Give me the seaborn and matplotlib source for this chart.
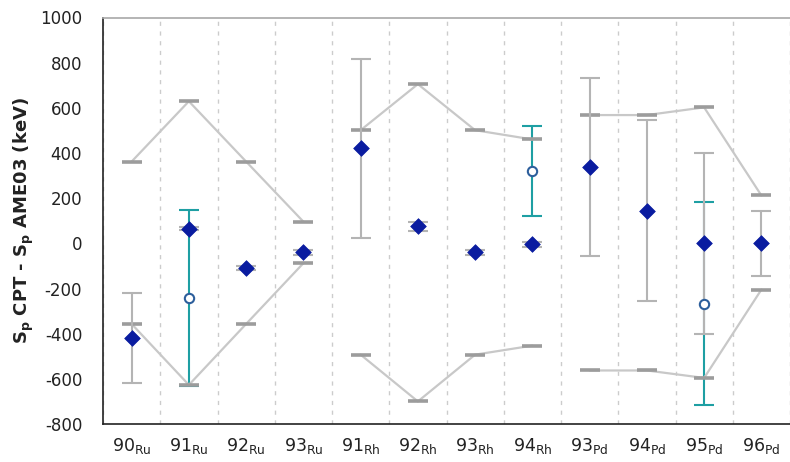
import numpy as np
import pandas as pd
import matplotlib
matplotlib.use("Agg")
import matplotlib.pyplot as plt
import seaborn as sns

# ---- data ----
masses = ['90', '91', '92', '93', '91', '92', '93', '94', '93', '94', '95', '96']
elements = ['Ru', 'Ru', 'Ru', 'Ru', 'Rh', 'Rh', 'Rh', 'Rh', 'Pd', 'Pd', 'Pd', 'Pd']
cpt_val = [-420, 65, -110, -40, 420, 75, -40, -5, 340, 145, 0, 0]
cpt_err = [198, 8, 10, 10, 397, 20, 10, 10, 394, 400, 400, 145]
alt_pos = [1, 7, 10]
alt_val = [-242, 320, -267]
alt_err = [388, 198, 448]
ame_upper = [362, 629, 362, 96, 501, 705, 501, 460, 568, 568, 602, 212]
ame_lower = [-357, -627, -357, -88, -493, -700, -493, -453, -563, -563, -596, -205]
yticks = list(range(-800, 1001, 200))

sns.set_style("white")
plt.rcParams['font.family'] = ['DejaVu Sans']

x = np.arange(len(masses))
df = pd.DataFrame({'x': x, 'cpt': cpt_val, 'upper': ame_upper,
                   'lower': ame_lower, 'group': elements})

fig = plt.figure(figsize=(7.9, 4.62), dpi=100)
ax = fig.add_axes([103 / 790, 1 - 424 / 462, 1 - 103 / 790, (424 - 17.5) / 462])

grey_bar = '#B4B4B4'
cyan = '#1E9FA3'

# cyan error bars (alternative values)
ax.errorbar(alt_pos, alt_val, yerr=alt_err, fmt='none', ecolor=cyan,
            elinewidth=1.5, capsize=7, capthick=1.5, zorder=2)

# AME uncertainty envelope lines
for col in ['upper', 'lower']:
    sns.lineplot(data=df, x='x', y=col, units='group', estimator=None,
                 color='#C8C8C8', lw=1.6, marker='_', markersize=14,
                 markeredgewidth=2.6, markeredgecolor='#9C9C9C',
                 legend=False, ax=ax, zorder=3)

# grey error bars on CPT values
ax.errorbar(x, cpt_val, yerr=cpt_err, fmt='none', ecolor=grey_bar,
            elinewidth=1.5, capsize=7, capthick=1.5, zorder=4)

sns.scatterplot(x=x, y=cpt_val, marker='D', s=64, color='#0A1CA0',
                edgecolor='#0A1CA0', linewidth=0.5, ax=ax, zorder=5, legend=False)
sns.scatterplot(x=alt_pos, y=alt_val, marker='o', s=45, color='white',
                edgecolor='#2D5F9C', linewidth=1.5, ax=ax, zorder=6, legend=False)

# axes
ax.set_xlim(-0.5, -0.5 + 687 / 57.6)
ax.set_ylim(-800, 1000)
ax.set_yticks(yticks)
ax.set_yticklabels([str(v) for v in yticks], fontsize=12, color='#222222')
ax.set_xticks(x)
ax.set_xticklabels([rf'$\mathregular{{{m}_{{{e}}}}}$' for m, e in zip(masses, elements)],
                   fontsize=12.5, color='#222222')
ax.set_xticks(np.arange(len(masses) + 1) - 0.5, minor=True)
ax.tick_params(axis='x', which='major', length=0, pad=9)
ax.tick_params(axis='x', which='minor', length=5, width=1, color='#222222', direction='out')
ax.tick_params(axis='y', which='major', length=5, width=1, color='#222222', direction='out', pad=10)
ax.grid(False)
ax.grid(True, axis='x', which='minor', linestyle=(0, (3, 4)), color='#CCCCCC', lw=1)
ax.set_xlabel('')
ax.set_ylabel(r'$\mathbf{S_p}$ CPT - $\mathbf{S_p}$ AME03 (keV)', fontweight='bold',
              fontsize=13, labelpad=3, color='#222222')

for s in ['left', 'bottom']:
    ax.spines[s].set_color('#222222')
    ax.spines[s].set_linewidth(1.2)
ax.spines['right'].set_visible(False)
ax.spines['top'].set_color('#A8A8A8')
ax.spines['top'].set_linewidth(1.2)

fig.savefig('out.png', dpi=100)
